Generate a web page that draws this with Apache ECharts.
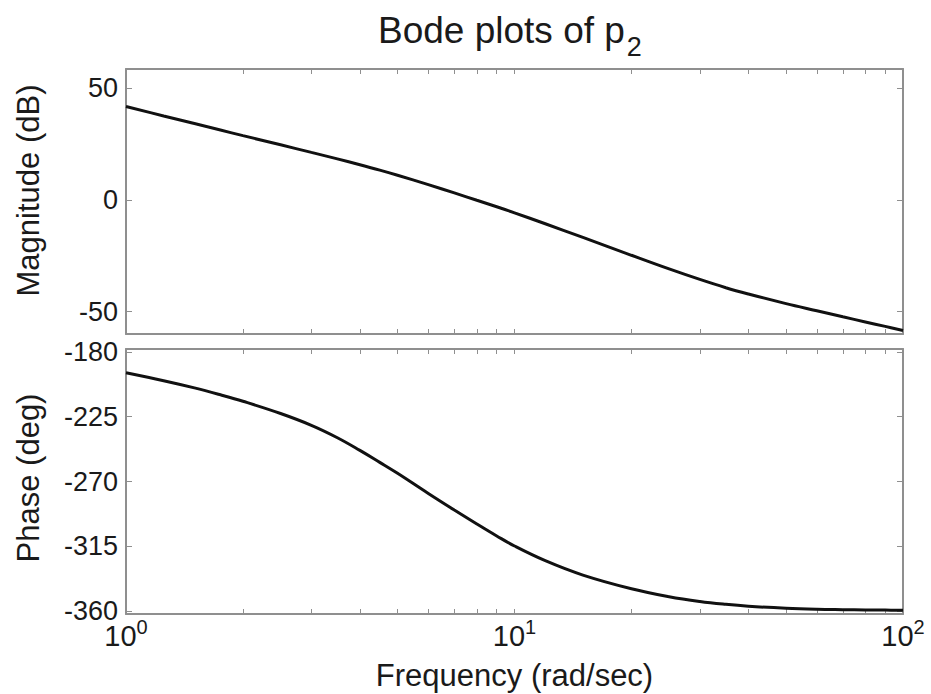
<!DOCTYPE html>
<html><head><meta charset="utf-8">
<script src="https://cdn.jsdelivr.net/npm/echarts@6/dist/echarts.min.js"></script>
<style>html,body{margin:0;padding:0;background:#fff}#c{width:931px;height:694px}</style>
</head><body><div id="c"></div>
<script>
// Frequency samples (rad/sec)
const freq = [1, 1.25, 1.5, 1.75, 2, 2.5, 3, 3.5, 4, 4.5, 5, 6, 7, 8, 9, 10, 12, 15, 20, 25, 30, 35, 40, 50, 60, 70, 80, 90, 100];
// Magnitude (dB)
const magnitude = [41.7, 37.5, 34.1, 31.2, 28.7, 24.6, 21.2, 18.3, 15.7, 13.3, 11.0, 6.8, 3.1, -0.2, -3.1, -5.8, -10.7, -16.8, -24.8, -30.9, -35.6, -39.3, -42.1, -46.4, -49.6, -52.3, -54.6, -56.6, -58.4];
// Phase (deg)
const phase = [-194.5, -200, -205, -209.8, -214.3, -222.8, -231, -239.6, -248.4, -256.7, -264.3, -278.3, -289.8, -299.5, -307.8, -314.8, -325, -335, -344.5, -350, -353.3, -355.3, -356.6, -358, -358.7, -359, -359.2, -359.3, -359.4];
// Tick values
const magTicks = [-50, 0, 50];
const phaseTicks = [-360, -315, -270, -225, -180];
const freqTicks = [1, 2, 3, 4, 5, 6, 7, 8, 9, 10, 20, 30, 40, 50, 60, 70, 80, 90, 100];
const freqLabels = [1, 10, 100];

const AX = '#8f8f8f';
const TXT = '#1a1a1a';
const FONT = 'Liberation Sans, Arial, sans-serif';

function xAx(grid, pos, labels) {
  const a = {
    gridIndex: grid, type: 'log', logBase: 10, min: 1, max: 100, position: pos,
    axisLine: {show: true, onZero: false, lineStyle: {color: AX, width: 2}},
    axisTick: {show: true, inside: true, length: 5, customValues: freqTicks, lineStyle: {color: AX, width: 1}},
    splitLine: {show: false}, minorTick: {show: false},
    axisLabel: {show: false}
  };
  if (labels) {
    a.axisLabel = {
      show: true, customValues: freqLabels, margin: 3, color: TXT, fontFamily: FONT,
      formatter: v => '{b|10}{s|' + Math.round(Math.log10(v)) + '}',
      rich: {
        b: {fontSize: 29, lineHeight: 29, padding: [9, 0, 0, 0], color: TXT, fontFamily: FONT},
        s: {fontSize: 20, lineHeight: 20, verticalAlign: 'top', color: TXT, fontFamily: FONT}
      }
    };
    a.name = 'Frequency (rad/sec)';
    a.nameLocation = 'middle';
    a.nameGap = 46;
    a.nameTextStyle = {fontSize: 31, color: TXT, fontFamily: FONT};
  }
  return a;
}
function yAx(grid, pos, min, max, ticks, name, labels, shift) {
  const a = {
    gridIndex: grid, type: 'value', min: min, max: max, position: pos,
    axisLine: {show: true, onZero: false, lineStyle: {color: AX, width: 2}},
    axisTick: {show: true, inside: true, length: 6, customValues: ticks, lineStyle: {color: AX, width: 1}},
    splitLine: {show: false},
    axisLabel: {show: false}
  };
  if (labels) {
    a.axisLabel = {show: true, customValues: ticks, margin: 8, fontSize: 27, color: TXT, fontFamily: FONT};
    a.name = name;
    a.nameLocation = 'middle';
    a.nameGap = 82;
    a.nameTextStyle = {fontSize: 31, color: TXT, fontFamily: FONT, padding: [0, 0, 0, shift]};
  }
  return a;
}

const chart = echarts.init(document.getElementById('c'), null, {renderer: 'svg'});
chart.setOption({
  animation: false,
  backgroundColor: '#ffffff',
  title: {
    text: '{a|Bode plots of p}{b|2}',
    left: 378, top: 12, padding: 0,
    textStyle: {
      fontWeight: 'normal',
      rich: {
        a: {fontSize: 37, lineHeight: 38, verticalAlign: 'top', fontWeight: 'normal', color: TXT, fontFamily: FONT},
        b: {fontSize: 27, lineHeight: 27, padding: [31, 0, 0, 2], fontWeight: 'normal', color: TXT, fontFamily: FONT}
      }
    }
  },
  grid: [
    {left: 126, right: 28, top: 69, height: 265, containLabel: false},
    {left: 126, right: 28, top: 349, height: 265, containLabel: false}
  ],
  xAxis: [xAx(0, 'bottom', false), xAx(0, 'top', false), xAx(1, 'bottom', true), xAx(1, 'top', false)],
  yAxis: [
    yAx(0, 'left', -60, 58.5, magTicks, 'Magnitude (dB)', true, 22),
    yAx(0, 'right', -60, 58.5, magTicks, '', false, 0),
    yAx(1, 'left', -362, -178, phaseTicks, 'Phase (deg)', true, 7),
    yAx(1, 'right', -362, -178, phaseTicks, '', false, 0)
  ],
  series: [
    {type: 'line', xAxisIndex: 0, yAxisIndex: 0, data: freq.map((f, i) => [f, magnitude[i]]),
     showSymbol: false, smooth: 0.4, lineStyle: {color: '#111', width: 3}},
    {type: 'line', xAxisIndex: 2, yAxisIndex: 2, data: freq.map((f, i) => [f, phase[i]]),
     showSymbol: false, smooth: 0.4, lineStyle: {color: '#111', width: 3}}
  ]
});
</script>
</body></html>
